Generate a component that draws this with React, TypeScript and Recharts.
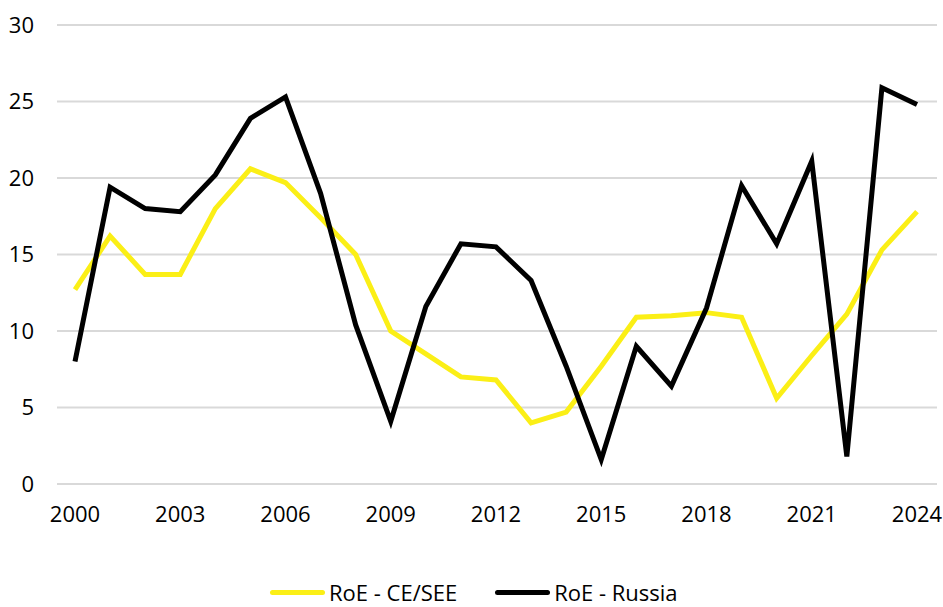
import { LineChart, Line, XAxis, YAxis, CartesianGrid } from 'recharts';

// Return on equity (%) by year
const anos = [
  '2000', '2001', '2002', '2003', '2004', '2005', '2006', '2007', '2008', '2009',
  '2010', '2011', '2012', '2013', '2014', '2015', '2016', '2017', '2018', '2019',
  '2020', '2021', '2022', '2023', '2024',
];
const roeCeSee = [
  12.7, 16.2, 13.7, 13.7, 18.0, 20.6, 19.7, 17.4, 15.0, 10.0,
  8.5, 7.0, 6.8, 4.0, 4.7, 7.7, 10.9, 11.0, 11.2, 10.9,
  5.6, 8.4, 11.1, 15.3, 17.8,
];
const roeRussia = [
  8.0, 19.4, 18.0, 17.8, 20.2, 23.9, 25.3, 19.0, 10.4, 4.1,
  11.6, 15.7, 15.5, 13.3, 7.7, 1.6, 9.0, 6.4, 11.5, 19.5,
  15.7, 21.1, 1.8, 25.9, 24.8,
];
const yTicks = [0, 5, 10, 15, 20, 25, 30];

const series = [
  { key: 'ceSee', nome: 'RoE - CE/SEE', cor: '#FBEF16' },
  { key: 'russia', nome: 'RoE - Russia', cor: '#000000' },
];

const data = anos.map((ano, i) => ({
  ano,
  ceSee: roeCeSee[i],
  russia: roeRussia[i],
}));

const fonte = '"Open Sans", sans-serif';

export default function App() {
  return (
    <div style={{ position: 'relative', width: 943, height: 607, overflow: 'hidden', fontFamily: fonte }}>
      <style>{'body { margin: 0; }'}</style>
      <LineChart
        width={943}
        height={540}
        data={data}
        margin={{ top: 25, right: 6, left: 0, bottom: 16 }}
      >
        <CartesianGrid vertical={false} stroke="#D9D9D9" strokeWidth={2} />
        <XAxis
          dataKey="ano"
          interval={2}
          axisLine={false}
          tickLine={false}
          tickSize={0}
          tickMargin={22}
          height={40}
          padding={{ left: 18, right: 20 }}
          tick={{ fill: '#000', fontSize: 22, fontFamily: fonte }}
        />
        <YAxis
          domain={[0, 30]}
          ticks={yTicks}
          axisLine={false}
          tickLine={false}
          tickSize={0}
          tickMargin={23}
          width={57}
          tick={{ fill: '#000', fontSize: 22, fontFamily: fonte }}
        />
        {series.map((s) => (
          <Line
            key={s.key}
            type="linear"
            dataKey={s.key}
            name={s.nome}
            stroke={s.cor}
            strokeWidth={5}
            dot={false}
            isAnimationActive={false}
          />
        ))}
      </LineChart>

      {/* legenda */}
      <div style={{ position: 'absolute', top: 578, left: 270, display: 'flex', alignItems: 'center', fontSize: 22, lineHeight: '28px' }}>
        {series.map((s, i) => (
          <div key={s.key} style={{ display: 'flex', alignItems: 'center', marginRight: i === 0 ? 38 : 0 }}>
            <span style={{ display: 'inline-block', width: 55, height: 5, background: s.cor, borderRadius: 3, marginRight: 4 }} />
            <span>{s.nome}</span>
          </div>
        ))}
      </div>
    </div>
  );
}
